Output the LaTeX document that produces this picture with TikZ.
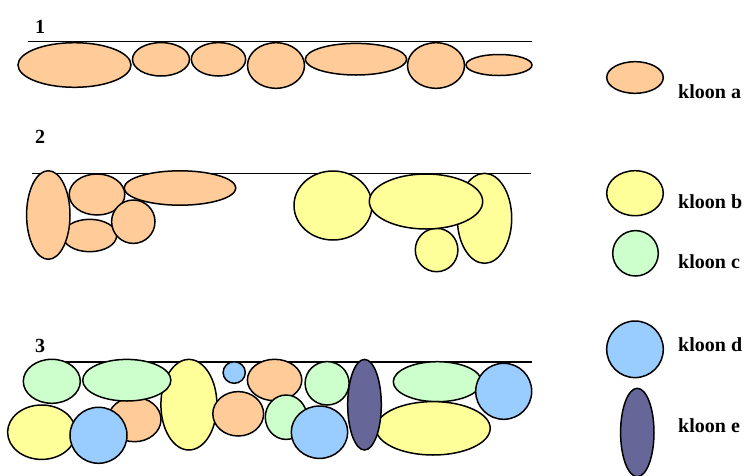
\documentclass[tikz,border=0pt]{standalone}
\usepackage{fontspec}
\setmainfont{Liberation Serif}
\usetikzlibrary{shapes.geometric}
\definecolor{corange}{HTML}{FFCC99}
\definecolor{cyellow}{HTML}{FFFF99}
\definecolor{cgreen}{HTML}{CCFFCC}
\definecolor{cblue}{HTML}{99CCFF}
\definecolor{cpurple}{HTML}{666699}
\tikzset{
  cell/.style={ellipse, draw=black, line width=1.5pt, inner sep=0pt, outer sep=0pt},
  ka/.style={cell, fill=corange},
  kb/.style={cell, fill=cyellow},
  kc/.style={cell, fill=cgreen},
  kd/.style={cell, fill=cblue},
  ke/.style={cell, fill=cpurple},
  sz/.style 2 args={minimum width=#1pt, minimum height=#2pt},
  surface/.style={draw=black, line width=1.6pt},
  num/.style={font=\fontsize{20}{22}\selectfont\bfseries, anchor=base west, inner sep=0pt},
  legtext/.style={font=\fontsize{20}{22}\selectfont\bfseries, anchor=base west, inner sep=0pt}
}
\begin{document}
\begin{tikzpicture}[x=1pt, y=-1pt]
\useasboundingbox (0,0) rectangle (748,475);
% section labels
\node[num] (l1) at (35,33) {1};
\node[num] (l2) at (35,143) {2};
\node[num] (l3) at (35,352) {3};
% surface lines
\coordinate (s1a) at (28,41.5); \coordinate (s1b) at (532,41.5);
\coordinate (s2a) at (32,173.3); \coordinate (s2b) at (531,173.3);
\coordinate (s3a) at (45,361.7); \coordinate (s3b) at (532,361.7);
\draw[surface] (s1a) -- (s1b);
\draw[surface] (s2a) -- (s2b);
\draw[surface] (s3a) -- (s3b);
% section 1
\node[ka, sz={113}{44.6}] (a11) at (74.5,65) {};
\node[ka, sz={57}{33.4}] (a12) at (161,59.3) {};
\node[ka, sz={54.3}{33.4}] (a13) at (218.5,59.3) {};
\node[ka, sz={57}{45.6}] (a14) at (276,65.5) {};
\node[ka, sz={101.3}{31.6}] (a15) at (356,59.2) {};
\node[ka, sz={57}{45.6}] (a16) at (436,65.5) {};
\node[ka, sz={66}{21}] (a17) at (499,65) {};
% section 2 orange
\node[ka, sz={54}{32.4}] (a25) at (89.7,235.5) {};
\node[ka, sz={43.4}{88.6}] (a21) at (48.3,215) {};
\node[ka, sz={55.6}{41}] (a22) at (97,194.5) {};
\node[ka, sz={43.4}{43.4}] (a24) at (133.3,221.7) {};
\node[ka, sz={111.6}{34.4}] (a23) at (180,188) {};
% section 2 yellow
\node[kb, sz={78}{69}] (b21) at (333,205.5) {};
\node[kb, sz={54.4}{90}] (b23) at (484.5,218.3) {};
\node[kb, sz={42.6}{43.4}] (b24) at (436.6,250) {};
\node[kb, sz={113.4}{55}] (b22) at (426,201.5) {};
% section 3
\node[kb, sz={68.2}{54.4}] (y33) at (41.7,432.2) {};
\node[ka, sz={53}{44.4}] (o33) at (134.5,419.5) {};
\node[kd, sz={57}{56}] (d34) at (98.5,435.3) {};
\node[kb, sz={56}{90.6}] (y31) at (188.9,404.7) {};
\node[kc, sz={57}{44}] (g31) at (51.8,381.3) {};
\node[kc, sz={88.2}{41.6}] (g32) at (126.8,380.2) {};
\node[ka, sz={50.8}{44.4}] (o32) at (238.2,413.8) {};
\node[ka, sz={54.4}{41.4}] (o31) at (274.6,380) {};
\node[kd, sz={22.2}{21.6}] (d31) at (234.2,372.5) {};
\node[kc, sz={41.6}{44.4}] (g34) at (286.1,417.2) {};
\node[kd, sz={56.4}{52.4}] (d32) at (319.5,432.2) {};
\node[kc, sz={44}{43.4}] (g33) at (327.1,383.3) {};
\node[kc, sz={88.2}{40}] (g35) at (437.4,381.7) {};
\node[kb, sz={114.2}{53.4}] (y32) at (433.1,428.3) {};
\node[kd, sz={56}{56}] (d33) at (503.7,391.3) {};
\node[ke, sz={33.6}{90.6}] (e31) at (364.5,404.7) {};
% legend
\node[ka, sz={56.6}{31.6}] (la) at (635,77.5) {};
\node[kb, sz={56.6}{45}] (lb) at (635,193.2) {};
\node[kc, sz={45.6}{45.4}] (lc) at (635.5,253.3) {};
\node[kd, sz={56.6}{56.6}] (ld) at (635,349.3) {};
\node[ke, sz={33.4}{88.4}] (le) at (637.3,432.5) {};
\node[legtext] (ta) at (678,98) {kloon a};
\node[legtext] (tb) at (678,208) {kloon b};
\node[legtext] (tc) at (678,268) {kloon c};
\node[legtext] (td) at (678,351) {kloon d};
\node[legtext] (te) at (678,432) {kloon e};
\end{tikzpicture}
\end{document}
